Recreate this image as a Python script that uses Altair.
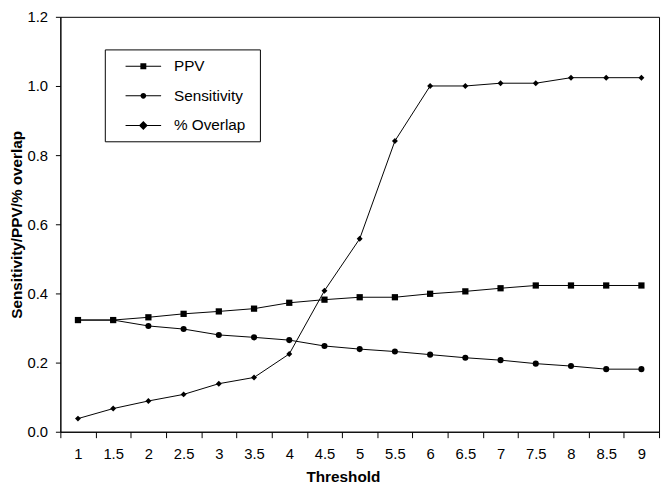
import altair as alt
import pandas as pd

thresholds = ["1", "1.5", "2", "2.5", "3", "3.5", "4", "4.5", "5",
              "5.5", "6", "6.5", "7", "7.5", "8", "8.5", "9"]
ppv = [0.323, 0.323, 0.331, 0.341, 0.348, 0.356, 0.373, 0.382, 0.389,
       0.389, 0.399, 0.406, 0.415, 0.423, 0.423, 0.423, 0.423]
sensitivity = [0.323, 0.323, 0.306, 0.297, 0.280, 0.273, 0.265, 0.248, 0.239,
               0.232, 0.223, 0.214, 0.207, 0.197, 0.190, 0.181, 0.181]
overlap = [0.038, 0.067, 0.089, 0.108, 0.139, 0.157, 0.225, 0.408, 0.558,
           0.841, 1.000, 1.000, 1.008, 1.008, 1.024, 1.024, 1.024]
series_names = ["PPV", "Sensitivity", "% Overlap"]

rows = []
for name, vals in zip(series_names, [ppv, sensitivity, overlap]):
    for t, v in zip(thresholds, vals):
        rows.append({"threshold": t, "value": v, "series": name})
df = pd.DataFrame(rows)

FONT = "Liberation Sans"

x_enc = alt.X(
    "threshold:O", sort=thresholds,
    scale=alt.Scale(type="band", paddingInner=0, paddingOuter=0),
    bandPosition=0.5,
    axis=alt.Axis(title="Threshold", labelAngle=0, tickBand="extent",
                  tickSize=6, labelPadding=9, titlePadding=8, titleX=286),
)
y_enc = alt.Y(
    "value:Q",
    scale=alt.Scale(domain=[0, 1.2], nice=False),
    axis=alt.Axis(title="Sensitivity/PPV/% overlap", values=[0, 0.2, 0.4, 0.6, 0.8, 1.0, 1.2],
                  format=".1f", tickSize=5, labelPadding=8, titlePadding=2),
)

base = alt.Chart(df)

lines = base.mark_line(color="black", strokeWidth=1).encode(
    x=x_enc, y=y_enc, detail="series:N"
)

points = base.mark_point(filled=True, color="black", opacity=1).encode(
    x=x_enc, y=y_enc,
    shape=alt.Shape("series:N",
                    scale=alt.Scale(domain=series_names, range=["square", "circle", "diamond"]),
                    legend=None),
    size=alt.Size("series:N",
                  scale=alt.Scale(domain=series_names, range=[40, 36, 90]),
                  legend=None),
)

seg = "M-1.8,-0.05H1.8V0.05H-1.8Z"
ext = "M11.1,0"
legend_paths = [
    seg + "M-0.3,-0.3H0.3V0.3H-0.3Z" + ext,
    seg + "M-0.29,0A0.29,0.29,0,1,1,0.29,0A0.29,0.29,0,1,1,-0.29,0Z" + ext,
    seg + "M0,-0.45L0.45,0L0,0.45L-0.45,0Z" + ext,
]

legend_layer = base.transform_filter("datum.value < -1").transform_calculate(
    legend_series="datum.series"
).mark_point(filled=True, color="black", opacity=1).encode(
    x=x_enc, y=y_enc,
    shape=alt.Shape(
        "legend_series:N",
        scale=alt.Scale(domain=series_names, range=legend_paths),
        legend=alt.Legend(
            title=None, orient="none", legendX=45, legendY=33,
            strokeColor="black", fillColor="white", padding=7, cornerRadius=0,
            symbolSize=400, symbolOffset=22, labelOffset=21, rowPadding=11,
            symbolFillColor="black", symbolStrokeColor="black", symbolStrokeWidth=0,
            symbolOpacity=1, labelFont=FONT, labelFontSize=15.5, labelColor="black",
        ),
    ),
)

chart = alt.layer(lines, points, legend_layer).resolve_scale(
    shape="independent"
).properties(
    width=606, height=420,
    padding={"left": 53, "top": 6, "right": 2, "bottom": 53},
    autosize=alt.AutoSizeParams(type="none"),
).configure_view(
    stroke="black", strokeWidth=1
).configure_axis(
    labelFont=FONT, labelFontSize=15, labelColor="black",
    titleFont=FONT, titleFontSize=15.5, titleFontWeight="bold", titleColor="black",
    domainColor="black", tickColor="black", grid=False,
)

chart.save("out.html", embed_options={"renderer": "svg", "actions": False})
